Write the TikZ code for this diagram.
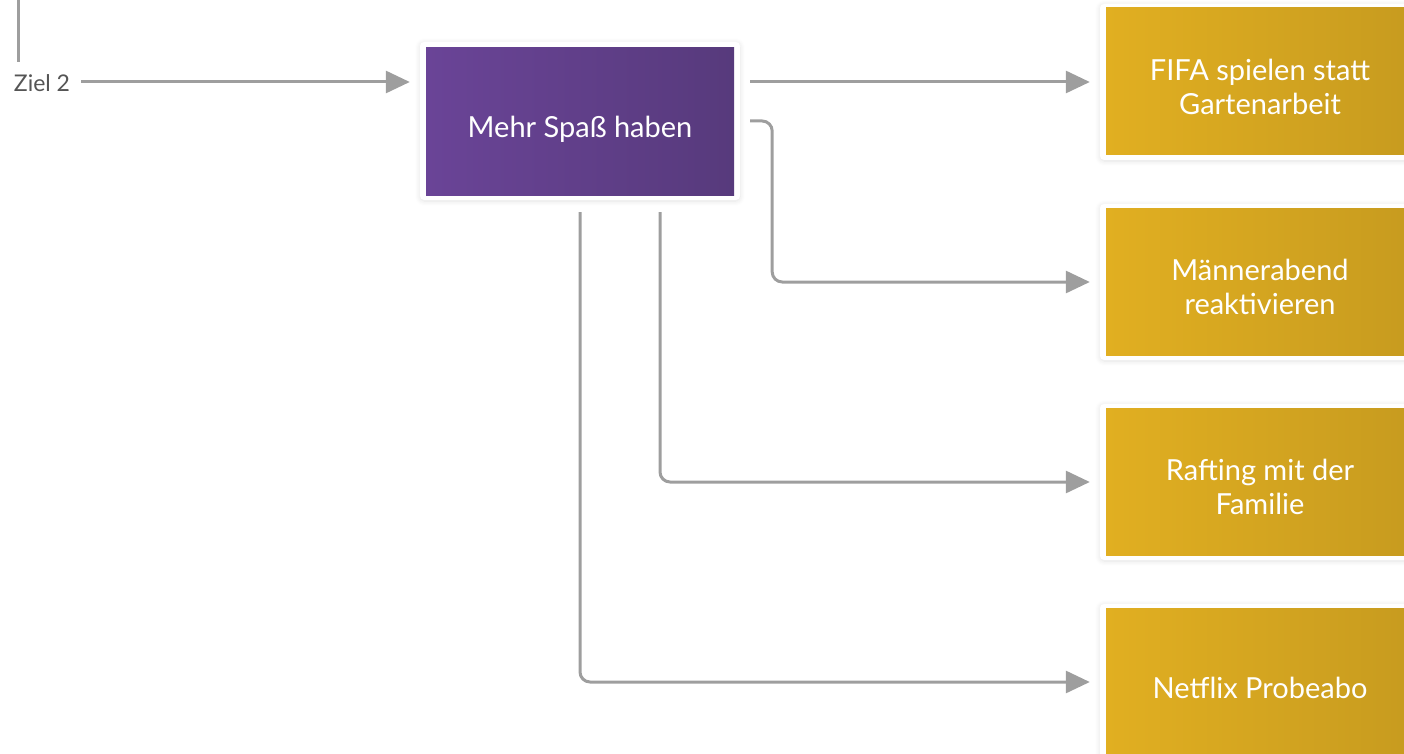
\documentclass[tikz,border=0pt]{standalone}
\usepackage{fontspec}
\setmainfont{Lato}
\usetikzlibrary{arrows.meta,shadows.blur}
\definecolor{conn}{HTML}{9E9E9E}
\definecolor{purpL}{HTML}{6A4497}
\definecolor{purpR}{HTML}{573A7C}
\definecolor{goldL}{HTML}{E1AF21}
\definecolor{goldR}{HTML}{C79B1F}
\definecolor{lbl}{HTML}{555555}
\tikzset{
  frame/.style={fill=white, draw=none, rounded corners=4pt, inner sep=0pt,
    blur shadow={shadow xshift=0pt, shadow yshift=-1pt, shadow blur steps=6, shadow blur radius=5pt, shadow opacity=12}},
  purplebox/.style={left color=purpL, right color=purpR, draw=none, inner sep=0pt,
    minimum width=308pt, minimum height=147pt},
  goldbox/.style={left color=goldL, right color=goldR, draw=none, inner sep=0pt,
    minimum width=308pt, minimum height=147pt},
  boxtext/.style={text=white, font=\fontsize{29}{34}\selectfont, align=center, inner sep=0pt},
  link/.style={draw=conn, line width=3pt, -{Triangle[length=24pt,width=22pt]}, rounded corners=10pt},
}
\begin{document}
\begin{tikzpicture}[x=1pt,y=-1pt]
\useasboundingbox (0,0) rectangle (1404,754);
\clip (0,0) rectangle (1404,754);
% purple
\node[frame, minimum width=320pt, minimum height=158pt] (mpf) at (580,121) {};
\node[purplebox] (mp) at (580,121.5) {};
\node[boxtext] (mpt) at (580,129) {Mehr Spaß haben};
% gold boxes
\node[frame, minimum width=320pt, minimum height=156pt] (g1f) at (1260,82) {};
\node[goldbox] (g1) at (1260,81.5) {};
\node[boxtext] (g1t) at (1260,87) {FIFA spielen statt\\Gartenarbeit};
\node[frame, minimum width=320pt, minimum height=156pt] (g2f) at (1260,282) {};
\node[goldbox] (g2) at (1260,281.5) {};
\node[boxtext] (g2t) at (1260,287) {Männerabend\\reaktivieren};
\node[frame, minimum width=320pt, minimum height=156pt] (g3f) at (1260,482) {};
\node[goldbox] (g3) at (1260,481.5) {};
\node[boxtext] (g3t) at (1260,487) {Rafting mit der\\Familie};
\node[frame, minimum width=320pt, minimum height=156pt] (g4f) at (1260,682) {};
\node[goldbox] (g4) at (1260,681.5) {};
\node[boxtext] (g4t) at (1260,688) {Netflix Probeabo};
% label
\node[text=lbl, font=\fontsize{23}{26}\selectfont, inner sep=0pt] (ziel) at (42,83) {Ziel 2};
\coordinate (top) at (18,-2);
\draw[draw=conn, line width=3pt] (top) -- (18,62);
% connectors
\draw[link] ([xshift=11pt]ziel.east |- 0,82) -- ([xshift=-10pt]mpf.west |- 0,82);
\draw[link] ([xshift=10pt]mpf.east |- g1f.west) -- ([xshift=-10pt]g1f.west);
\draw[link] ([xshift=10pt]mpf.east) -- ++(22,0) |- ([xshift=-10pt]g2f.west);
\draw[link] ([xshift=80pt,yshift=-12pt]mpf.south) |- ([xshift=-10pt]g3f.west);
\draw[link] ([yshift=-12pt]mpf.south) |- ([xshift=-10pt]g4f.west);
\end{tikzpicture}
\end{document}
